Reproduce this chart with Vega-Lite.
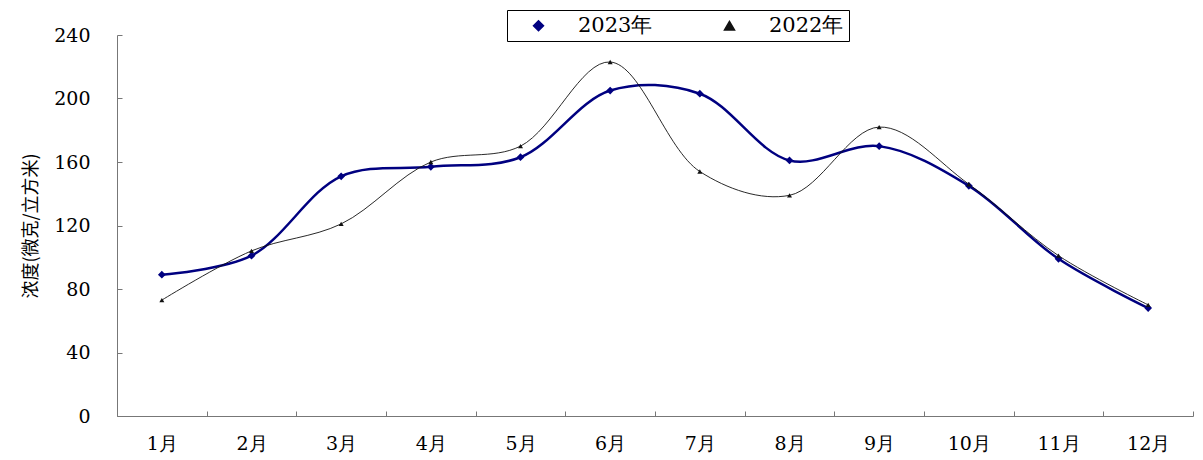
{
  "$schema": "https://vega.github.io/schema/vega-lite/v6.json",
  "autosize": "none",
  "width": 1076,
  "height": 381,
  "padding": {"left": 117, "top": 35, "right": 10, "bottom": 44},
  "background": "white",
  "config": {
    "view": {"stroke": null},
    "font": "DejaVu Serif",
    "axis": {"domainColor": "#777777", "tickColor": "#777777", "labelColor": "black", "labelFont": "DejaVu Serif", "labelFontSize": 19, "grid": false, "tickSize": -5}
  },
  "data": {
    "values": [
      {"month": "1月", "year": "2023年", "value": 89},
      {"month": "2月", "year": "2023年", "value": 101},
      {"month": "3月", "year": "2023年", "value": 151},
      {"month": "4月", "year": "2023年", "value": 157},
      {"month": "5月", "year": "2023年", "value": 163},
      {"month": "6月", "year": "2023年", "value": 205},
      {"month": "7月", "year": "2023年", "value": 203},
      {"month": "8月", "year": "2023年", "value": 161},
      {"month": "9月", "year": "2023年", "value": 170},
      {"month": "10月", "year": "2023年", "value": 145},
      {"month": "11月", "year": "2023年", "value": 99},
      {"month": "12月", "year": "2023年", "value": 68},
      {"month": "1月", "year": "2022年", "value": 73},
      {"month": "2月", "year": "2022年", "value": 104},
      {"month": "3月", "year": "2022年", "value": 121},
      {"month": "4月", "year": "2022年", "value": 160},
      {"month": "5月", "year": "2022年", "value": 170},
      {"month": "6月", "year": "2022年", "value": 223},
      {"month": "7月", "year": "2022年", "value": 154},
      {"month": "8月", "year": "2022年", "value": 139},
      {"month": "9月", "year": "2022年", "value": 182},
      {"month": "10月", "year": "2022年", "value": 146},
      {"month": "11月", "year": "2022年", "value": 101},
      {"month": "12月", "year": "2022年", "value": 70}
    ]
  },
  "encoding": {
    "x": {
      "field": "month", "type": "nominal",
      "sort": ["1月","2月","3月","4月","5月","6月","7月","8月","9月","10月","11月","12月"],
      "scale": {"type": "band", "paddingInner": 0, "paddingOuter": 0},
      "axis": {"title": null, "labelAngle": 0, "tickBand": "extent", "labelPadding": 23}
    },
    "y": {
      "field": "value", "type": "quantitative",
      "scale": {"domain": [0, 240], "nice": false},
      "axis": {"values": [0, 40, 80, 120, 160, 200, 240], "title": "浓度(微克/立方米)", "titleFont": "Noto Sans CJK SC", "titleFontWeight": "normal", "titleFontSize": 18, "titlePadding": 13, "labelPadding": 32}
    },
    "color": {"field": "year", "type": "nominal", "scale": {"domain": ["2023年", "2022年"], "range": ["#000080", "#111111"]},
      "legend": {"title": null, "orient": "none", "legendX": 390, "legendY": -25, "direction": "horizontal", "strokeColor": "black", "fillColor": "white", "padding": 5, "labelFont": "DejaVu Serif", "labelFontSize": 21, "labelColor": "black", "columnPadding": 50, "symbolSize": 100, "symbolOffset": 16, "labelOffset": 29}}
  },
  "layer": [
    {
      "mark": {"type": "line", "interpolate": "catmull-rom"},
      "encoding": {
        "strokeWidth": {"condition": {"test": "datum.year === '2023年'", "value": 2.5}, "value": 0.9}
      }
    },
    {
      "mark": {"type": "point", "filled": true, "opacity": 1, "strokeWidth": 0},
      "encoding": {
        "shape": {"field": "year", "type": "nominal", "scale": {"domain": ["2023年", "2022年"], "range": ["diamond", "triangle-up"]}, "legend": null},
        "size": {"condition": {"test": "datum.year === '2023年'", "value": 60}, "value": 25}
      }
    }
  ]
}
